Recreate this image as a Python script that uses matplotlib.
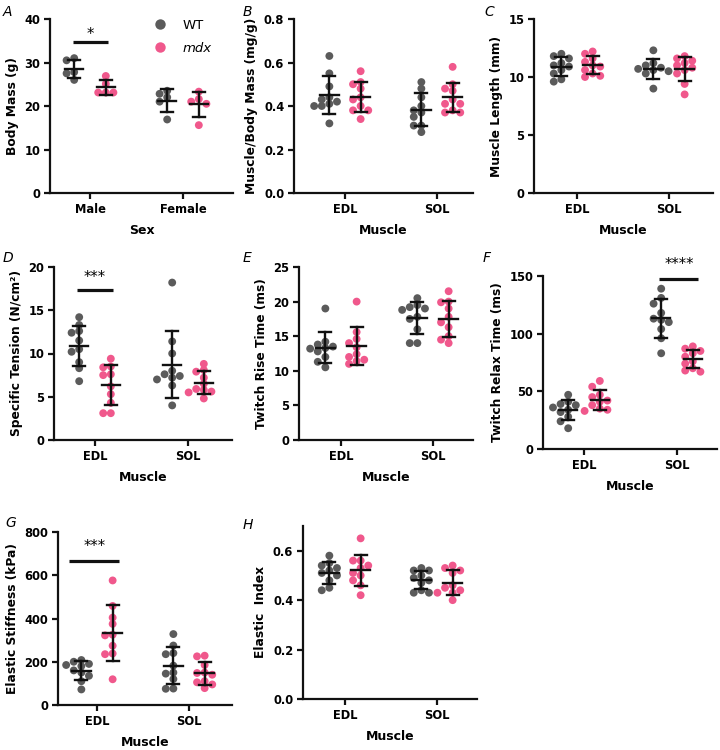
import numpy as np
import matplotlib as mpl
mpl.use('Agg')
import matplotlib.pyplot as plt
from matplotlib.lines import Line2D

plt.rcParams['font.family'] = ['DejaVu Sans']
plt.rcParams['font.weight'] = 'bold'

WT_COLOR = '#5b5b5b'
MDX_COLOR = '#f0588c'

# ---- data ----
sexes = ['Male', 'Female']
muscles = ['EDL', 'SOL']

body_mass_wt = [[30.5, 31.0, 27.8, 27.5, 26.0], [22.8, 23.5, 22.0, 21.0, 16.9]]
body_mass_mdx = [[26.9, 23.1, 23.1, 25.1, 23.1], [21.6, 23.3, 21.0, 20.5, 15.6]]

ratio_wt = [[0.63, 0.55, 0.49, 0.44, 0.43, 0.42, 0.41, 0.40, 0.40, 0.32],
            [0.51, 0.48, 0.44, 0.40, 0.38, 0.37, 0.35, 0.31, 0.31, 0.28]]
ratio_mdx = [[0.56, 0.51, 0.50, 0.48, 0.44, 0.43, 0.40, 0.38, 0.38, 0.34],
             [0.58, 0.50, 0.48, 0.47, 0.43, 0.41, 0.41, 0.38, 0.37, 0.37]]

length_wt = [[12.0, 11.8, 11.6, 11.2, 11.0, 10.9, 10.6, 10.3, 9.8, 9.6],
             [12.3, 11.2, 11.0, 10.8, 10.7, 10.6, 10.5, 10.3, 9.0]]
length_mdx = [[12.2, 12.0, 11.6, 11.3, 11.0, 10.9, 10.6, 10.3, 10.1, 10.0],
              [11.8, 11.6, 11.4, 11.2, 11.0, 10.8, 10.6, 10.3, 9.4, 8.5]]

tension_wt = [[14.2, 13.3, 12.6, 12.4, 11.5, 10.5, 10.2, 9.0, 8.3, 6.8],
              [18.2, 11.4, 10.0, 8.0, 7.6, 7.4, 7.2, 7.0, 6.3, 4.0]]
tension_mdx = [[9.4, 8.5, 8.4, 7.6, 7.5, 6.2, 5.3, 4.3, 3.1, 3.1],
               [8.8, 8.1, 7.9, 7.2, 6.5, 5.9, 5.8, 5.6, 5.5, 4.8]]

rise_wt = [[19.0, 14.2, 13.8, 13.5, 13.3, 13.2, 12.8, 12.0, 11.3, 10.5],
           [20.5, 19.5, 19.2, 19.0, 18.8, 17.8, 17.5, 16.0, 14.0, 14.0]]
rise_mdx = [[20.0, 15.6, 14.6, 14.0, 13.4, 12.4, 12.0, 11.6, 11.4, 11.0],
            [21.5, 20.0, 19.9, 19.0, 17.8, 17.0, 16.3, 15.0, 14.5, 14.0]]

relax_wt = [[47, 41, 39, 38, 36, 34, 32, 28, 24, 18],
            [139, 131, 126, 118, 113, 112, 110, 104, 96, 83]]
relax_mdx = [[59, 54, 47, 45, 42, 41, 38, 35, 34, 33],
             [89, 87, 85, 83, 80, 76, 74, 70, 68, 67]]

stiff_wt = [[208, 200, 190, 185, 180, 160, 150, 135, 110, 72],
            [328, 275, 240, 235, 182, 150, 145, 120, 76, 75]]
stiff_mdx = [[576, 458, 404, 375, 325, 322, 274, 238, 235, 119],
             [228, 225, 185, 150, 148, 140, 110, 105, 95, 78]]

elastic_wt = [[0.58, 0.55, 0.54, 0.53, 0.52, 0.51, 0.50, 0.48, 0.45, 0.44],
              [0.53, 0.52, 0.52, 0.50, 0.49, 0.48, 0.47, 0.44, 0.43, 0.43]]
elastic_mdx = [[0.65, 0.56, 0.56, 0.54, 0.53, 0.51, 0.50, 0.48, 0.46, 0.42],
               [0.54, 0.53, 0.52, 0.51, 0.46, 0.45, 0.44, 0.43, 0.43, 0.40]]

W, H = 720, 750
fig = plt.figure(figsize=(W / 100, H / 100), dpi=100)


def swarm(vals, center, ppx, ppy, step=7.6, gap=6.0):
    # simple column scatter: shift a point sideways until it clears the others
    vals = np.asarray(vals, float)
    xs = np.zeros(len(vals))
    placed = []
    for i in np.argsort(vals)[::-1]:
        y = vals[i] * ppy
        for k in [0, -1, 1, -2, 2, -3, 3, -4, 4]:
            x = k * step
            if all((x - px) ** 2 + (y - py) ** 2 >= gap ** 2 for px, py in placed):
                break
        placed.append((x, y))
        xs[i] = center + x / ppx
    return xs


def panel(letter, box, ylim, yticks, ylabel, cats, wt, mdx, xlabel='Muscle', fmt=None):
    left, right, top, bottom, t0, t1 = box
    ax = fig.add_axes([left / W, 1 - bottom / H, (right - left) / W, (bottom - top) / H])
    unit = t1 - t0
    ax.set_xlim(-(t0 - left) / unit, 1 + (right - t1) / unit)
    ax.set_ylim(*ylim)
    ppx = unit
    ppy = (bottom - top) / (ylim[1] - ylim[0])
    for i in range(2):
        for vals, off, col in [(wt[i], -0.17, WT_COLOR), (mdx[i], 0.17, MDX_COLOR)]:
            c = i + off
            xs = swarm(vals, c, ppx, ppy)
            ax.scatter(xs, vals, s=32, color=col, edgecolor='none', zorder=2, clip_on=False)
            m = np.mean(vals)
            sd = np.std(vals, ddof=1)
            ax.plot([c - 0.1, c + 0.1], [m, m], color='#111111', lw=1.7, zorder=3)
            ax.plot([c, c], [m - sd, m + sd], color='#111111', lw=1.7, zorder=3)
            for yy in (m - sd, m + sd):
                ax.plot([c - 0.065, c + 0.065], [yy, yy], color='#111111', lw=1.7, zorder=3)
    ax.set_xticks([0, 1])
    ax.set_xticklabels(cats)
    ax.set_yticks(yticks)
    if fmt:
        ax.set_yticklabels([fmt.format(t) for t in yticks])
    for s in ['top', 'right']:
        ax.spines[s].set_visible(False)
    for s in ['left', 'bottom']:
        ax.spines[s].set_linewidth(1.6)
        ax.spines[s].set_color('#111111')
    ax.tick_params(width=1.6, length=4.5, labelsize=8.3, color='#111111', pad=2.5)
    ax.set_ylabel(ylabel, fontsize=8.8, fontweight='bold', labelpad=4)
    ax.set_xlabel(xlabel, fontsize=9, fontweight='bold', labelpad=6)
    lx, ly = {'A': (3, 12), 'B': (243, 12), 'C': (484, 12), 'D': (3, 258),
              'E': (243, 258), 'F': (483, 258), 'G': (5, 523), 'H': (243, 525)}[letter]
    fig.text(lx / W, 1 - ly / H, letter, fontsize=10, style='italic',
             fontweight='normal', va='center', ha='left')
    return ax


def sig(ax, x0, x1, y, ytxt, stars):
    ax.plot([x0, x1], [y, y], color='#111111', lw=2.3, clip_on=False, solid_capstyle='butt')
    ax.text((x0 + x1) / 2, ytxt, stars, ha='center', va='center', fontsize=10.5,
            fontweight='normal', clip_on=False)


axA = panel('A', (50, 233, 19, 193, 90, 183), (0, 40), [0, 10, 20, 30, 40], 'Body Mass (g)',
            sexes, body_mass_wt, body_mass_mdx, xlabel='Sex')
sig(axA, -0.18, 0.19, 34.7, 36.5, '*')
handles = [Line2D([], [], marker='o', ls='none', color=WT_COLOR, markersize=7.5, markeredgewidth=0),
           Line2D([], [], marker='o', ls='none', color=MDX_COLOR, markersize=7.5, markeredgewidth=0)]
leg = axA.legend(handles, ['WT', 'mdx'], loc='upper right', frameon=False, handletextpad=0.7,
                 labelspacing=0.75, bbox_to_anchor=(0.95, 1.07), prop={'size': 9.5, 'weight': 'normal'})
leg.get_texts()[1].set_style('italic')

panel('B', (294, 473, 19, 193, 345, 437), (0, 0.8), [0, 0.2, 0.4, 0.6, 0.8], 'Muscle/Body Mass (mg/g)',
      muscles, ratio_wt, ratio_mdx, fmt='{:.1f}')
panel('C', (534, 713, 19, 193, 577, 669), (0, 15), [0, 5, 10, 15], 'Muscle Length (mm)',
      muscles, length_wt, length_mdx)

axD = panel('D', (54, 232, 267, 440, 95, 188), (0, 20), [0, 5, 10, 15, 20], 'Specific Tension (N/cm²)',
            muscles, tension_wt, tension_mdx)
sig(axD, -0.19, 0.19, 17.3, 18.8, '***')
panel('E', (299, 473, 267, 440, 341, 433), (0, 25), [0, 5, 10, 15, 20, 25], 'Twitch Rise Time (ms)',
      muscles, rise_wt, rise_mdx)
axF = panel('F', (543, 717, 276, 449, 584, 677), (0, 150), [0, 50, 100, 150], 'Twitch Relax Time (ms)',
            muscles, relax_wt, relax_mdx)
sig(axF, 1 - 0.19, 1 + 0.23, 147, 160, '****')

axG = panel('G', (58, 232, 532, 705, 97, 189), (0, 800), [0, 200, 400, 600, 800], 'Elastic Stiffness (kPa)',
            muscles, stiff_wt, stiff_mdx)
sig(axG, -0.30, 0.24, 666, 735, '***')
panel('H', (303, 477, 526, 699, 345, 437), (0, 0.7), [0, 0.2, 0.4, 0.6], 'Elastic  Index',
      muscles, elastic_wt, elastic_mdx, fmt='{:.1f}')

fig.savefig('out.png', dpi=100)
